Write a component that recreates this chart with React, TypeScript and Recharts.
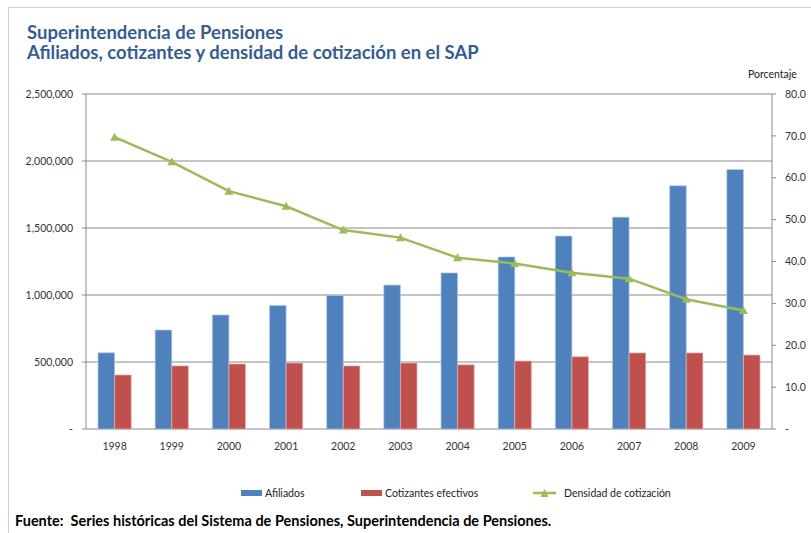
import {
  ComposedChart,
  Bar,
  Line,
  XAxis,
  YAxis,
  CartesianGrid,
  Legend,
} from "recharts";

const years = ["1998", "1999", "2000", "2001", "2002", "2003", "2004", "2005", "2006", "2007", "2008", "2009"];
const afiliados = [569000, 739000, 851000, 922000, 997000, 1074000, 1165000, 1284000, 1440000, 1581000, 1815000, 1936000];
const cotizantes = [403000, 471000, 485000, 492000, 471000, 492000, 479000, 507000, 539000, 568000, 568000, 552000];
const densidad = [69.7, 63.8, 56.8, 53.2, 47.5, 45.7, 40.9, 39.5, 37.3, 35.9, 31.0, 28.3];
const leftTicks = [0, 500000, 1000000, 1500000, 2000000, 2500000];
const rightTicks = [0, 10, 20, 30, 40, 50, 60, 70, 80];
const boundaryTicks = [0, 1, 2, 3, 4, 5, 6, 7, 8, 9, 10, 11, 12];

const data = years.map((year, i) => ({
  year,
  afiliados: afiliados[i],
  cotizantes: cotizantes[i],
  densidad: densidad[i],
}));

const BLUE = "#4F81BD";
const RED = "#C0504D";
const GREEN = "#9BBB59";
const GRID = "#8a8a8a";
const FONT = "Lato, 'Liberation Sans', sans-serif";
const TICK = { fontSize: 10.5, fill: "#333", fontFamily: FONT };

const fmtLeft = (v: number) => (v === 0 ? "-" : v.toLocaleString("en-US"));
const fmtRight = (v: number) => (v === 0 ? "-" : v.toFixed(1));

function Triangle(props: any) {
  const { cx, cy } = props;
  if (cx == null || cy == null) return null;
  return (
    <polygon
      points={`${cx - 4.5},${cy + 3.5} ${cx + 4.5},${cy + 3.5} ${cx},${cy - 4.5}`}
      fill={GREEN}
    />
  );
}

function LegendBox() {
  const item = { display: "flex", alignItems: "center", position: "absolute" as const, top: 0 };
  const label = { fontSize: 10.5, color: "#222", fontFamily: FONT, marginLeft: 3, whiteSpace: "nowrap" as const };
  return (
    <div style={{ position: "relative", height: 14 }}>
      <div style={{ ...item, left: 241 }}>
        <span style={{ width: 21, height: 6, background: BLUE, display: "inline-block" }} />
        <span style={label}>Afiliados</span>
      </div>
      <div style={{ ...item, left: 361 }}>
        <span style={{ width: 21, height: 6, background: RED, display: "inline-block" }} />
        <span style={label}>Cotizantes efectivos</span>
      </div>
      <div style={{ ...item, left: 533 }}>
        <svg width={23} height={10}>
          <line x1={0} y1={5} x2={23} y2={5} stroke={GREEN} strokeWidth={2.5} />
          <polygon points="7.5,9 15.5,9 11.5,1" fill={GREEN} />
        </svg>
        <span style={{ ...label, marginLeft: 8 }}>Densidad de cotización</span>
      </div>
    </div>
  );
}

export default function App() {
  return (
    <div style={{ position: "absolute", left: 0, top: 0, width: 811, height: 533, background: "#fff", overflow: "hidden" }}>
      <div style={{ position: "absolute", left: 8, top: 7, width: 820, height: 540, borderLeft: "1px solid #cfcfcf", borderTop: "1px solid #cfcfcf" }} />
      <div style={{ position: "absolute", left: 27, top: 22, color: "#345D90", fontFamily: FONT, fontWeight: 700, fontSize: 18.5, letterSpacing: 0, lineHeight: "20px", whiteSpace: "nowrap" }}>
        <div>Superintendencia de Pensiones</div>
        <div>Afiliados, cotizantes y densidad de cotización en el SAP</div>
      </div>
      <div style={{ position: "absolute", left: 748, top: 68, fontFamily: FONT, fontSize: 10.5, color: "#222" }}>Porcentaje</div>
      <ComposedChart
        width={811}
        height={533}
        data={data}
        margin={{ top: 94, right: 0, bottom: 74, left: 6 }}
        barCategoryGap="21%"
        barGap={0}
        style={{ position: "absolute", left: 0, top: 0 }}
      >
        <CartesianGrid yAxisId="left" vertical={false} stroke={GRID} strokeWidth={1} />
        <XAxis
          xAxisId="bounds"
          type="number"
          domain={[0, 12]}
          ticks={boundaryTicks}
          allowDataOverflow
          height={0}
          tick={false}
          tickSize={4}
          tickLine={{ stroke: GRID }}
          axisLine={{ stroke: GRID }}
        />
        <XAxis
          xAxisId="cat"
          dataKey="year"
          height={30}
          tickLine={false}
          axisLine={false}
          tickSize={0}
          tickMargin={14}
          tick={TICK}
          interval={0}
        />
        <YAxis
          yAxisId="left"
          width={80}
          domain={[0, 2500000]}
          ticks={leftTicks}
          tickFormatter={fmtLeft}
          tickSize={4}
          tickMargin={9}
          tick={TICK}
          tickLine={{ stroke: GRID }}
          axisLine={{ stroke: GRID }}
        />
        <YAxis
          yAxisId="right"
          orientation="right"
          width={39}
          domain={[0, 80]}
          ticks={rightTicks}
          tickFormatter={fmtRight}
          tickSize={4}
          tickMargin={9}
          tick={{ ...TICK, textAnchor: "start" }}
          tickLine={{ stroke: GRID }}
          axisLine={{ stroke: GRID }}
        />
        <Bar xAxisId="cat" yAxisId="left" dataKey="afiliados" name="Afiliados" fill={BLUE} stroke="#b4c8e2" strokeWidth={0.7} barSize={16.6} isAnimationActive={false} />
        <Bar xAxisId="cat" yAxisId="left" dataKey="cotizantes" name="Cotizantes efectivos" fill={RED} stroke="#e3b3b2" strokeWidth={0.7} barSize={16.6} isAnimationActive={false} />
        <Line
          xAxisId="cat"
          yAxisId="right"
          dataKey="densidad"
          name="Densidad de cotización"
          stroke={GREEN}
          strokeWidth={2.5}
          dot={<Triangle />}
          activeDot={false}
          isAnimationActive={false}
        />
        <Legend
          layout="horizontal"
          verticalAlign="middle"
          align="center"
          content={<LegendBox />}
          wrapperStyle={{ position: "absolute", top: 487, left: 0, width: 811, height: 14 }}
        />
      </ComposedChart>
      <div style={{ position: "absolute", left: 15, top: 512, fontFamily: FONT, fontWeight: 700, fontSize: 14.5, color: "#000", letterSpacing: 0, whiteSpace: "nowrap" }}>
        Fuente: &nbsp;Series históricas del Sistema de Pensiones, Superintendencia de Pensiones.
      </div>
    </div>
  );
}
